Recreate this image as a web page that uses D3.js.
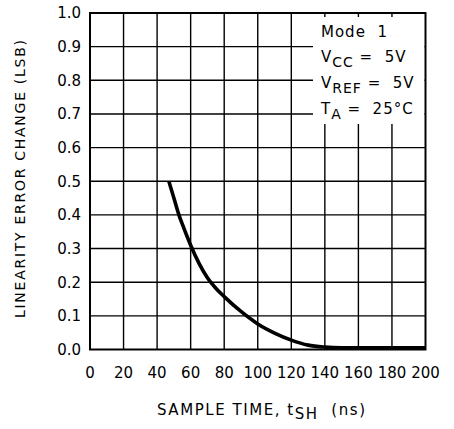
<!DOCTYPE html>
<html>
<head>
<meta charset="utf-8">
<script src="https://d3js.org/d3.v7.min.js"></script>
<style>
  body { margin: 0; background: #fff; }
  text { font-family: "DejaVu Sans", sans-serif; fill: #000; white-space: pre; }
</style>
</head>
<body>
<svg id="chart" width="454" height="429"></svg>
<script>
// sample time (ns) vs linearity error change (LSB)
const sampleTime = [47, 50, 53, 56, 60, 65, 70, 75, 80, 90, 100, 110, 120, 130, 140, 150, 200];
const errorChange = [0.5, 0.45, 0.40, 0.36, 0.31, 0.256, 0.213, 0.182, 0.157, 0.113, 0.076, 0.049, 0.028, 0.013, 0.007, 0.005, 0.005];
const xTicks = [0, 20, 40, 60, 80, 100, 120, 140, 160, 180, 200];
const yTicks = [0, 0.1, 0.2, 0.3, 0.4, 0.5, 0.6, 0.7, 0.8, 0.9, 1.0];

const svg = d3.select("#chart");
const pLeft = 90, pRight = 425.5, pTop = 13, pBottom = 349.5;

const x = d3.scaleLinear().domain([0, 200]).range([pLeft, pRight]);
const y = d3.scaleLinear().domain([0, 1]).range([pBottom, pTop]);

// grid
const grid = svg.append("g").attr("stroke", "#000").attr("stroke-width", 1.4);
grid.selectAll("line.v").data(xTicks.slice(1, -1)).join("line")
  .attr("class", "v")
  .attr("x1", d => x(d)).attr("x2", d => x(d))
  .attr("y1", pTop).attr("y2", pBottom);
grid.selectAll("line.h").data(yTicks.slice(1, -1)).join("line")
  .attr("class", "h")
  .attr("x1", pLeft).attr("x2", pRight)
  .attr("y1", d => y(d)).attr("y2", d => y(d));

// legend box knocks out grid
svg.append("rect")
  .attr("x", 313).attr("y", 17)
  .attr("width", pRight - 313 - 1).attr("height", 107)
  .attr("fill", "#fff");

// frame
svg.append("rect")
  .attr("x", pLeft).attr("y", pTop)
  .attr("width", pRight - pLeft).attr("height", pBottom - pTop)
  .attr("fill", "none").attr("stroke", "#000").attr("stroke-width", 2);

// curve
const line = d3.line()
  .x((d, i) => x(sampleTime[i]))
  .y(d => y(d))
  .curve(d3.curveMonotoneX);
svg.append("path")
  .attr("d", line(errorChange))
  .attr("fill", "none").attr("stroke", "#000")
  .attr("stroke-width", 3.6).attr("stroke-linecap", "butt");

// tick labels
svg.append("g").selectAll("text").data(yTicks).join("text")
  .attr("x", 81).attr("y", d => y(d)).attr("dy", "0.36em")
  .attr("text-anchor", "end").attr("font-size", 15)
  .text(d => d.toFixed(1));
svg.append("g").selectAll("text").data(xTicks).join("text")
  .attr("x", d => x(d)).attr("y", 378)
  .attr("text-anchor", "middle").attr("font-size", 15)
  .text(d => d);

// axis titles
const xt = svg.append("text")
  .attr("x", 157).attr("y", 415)
  .attr("font-size", 15)
  .attr("textLength", 208).attr("lengthAdjust", "spacing");
xt.append("tspan").text("SAMPLE TIME, t");
xt.append("tspan").attr("dy", 4).attr("font-size", 15).text("SH");
xt.append("tspan").attr("dy", -4).text("  (ns)");

svg.append("text")
  .attr("transform", "translate(25,318) rotate(-90)")
  .attr("font-size", 14)
  .attr("textLength", 278).attr("lengthAdjust", "spacing")
  .text("LINEARITY ERROR CHANGE (LSB)");

// conditions
const cond = [
  { main: "Mode  1", sub: "", rest: "", yy: 37 },
  { main: "V", sub: "CC", rest: " =  5V", yy: 62 },
  { main: "V", sub: "REF", rest: " =  5V", yy: 88 },
  { main: "T", sub: "A", rest: " =  25\u00B0C", yy: 114 }
];
cond.forEach(c => {
  const t = svg.append("text").attr("x", 321).attr("y", c.yy)
    .attr("font-size", 15).attr("letter-spacing", 1);
  t.append("tspan").text(c.main);
  if (c.sub) {
    t.append("tspan").attr("dy", 5).attr("font-size", 14).text(c.sub);
    t.append("tspan").attr("dy", -5).text(c.rest);
  }
});
</script>
</body>
</html>
